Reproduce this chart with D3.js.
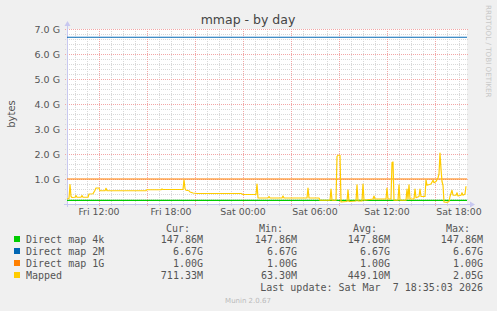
<!DOCTYPE html>
<html>
<head>
<meta charset="utf-8">
<script src="https://cdn.jsdelivr.net/npm/d3@7"></script>
<style>
  body { margin: 0; background: #f0f0f0; }
  svg { display: block; }
  text { font-family: "DejaVu Sans", sans-serif; }
  .mono { font-family: "DejaVu Sans Mono", monospace; white-space: pre; }
</style>
</head>
<body>
<svg id="chart"></svg>
<script>
const width = 497, height = 311;
const margin = { top: 29, right: 30, bottom: 107, left: 67 };

// x domain of the day graph
const startTime = "2026-03-06T09:20";
const endTime = "2026-03-07T18:40";

// series (values in G)
const seriesNames = ["Direct map 4k", "Direct map 2M", "Direct map 1G", "Mapped"];
const seriesColors = ["#00cc00", "#0066b3", "#ff8000", "#ffcc00"];
const directMap4k = 0.1444;
const directMap2M = 6.67;
const directMap1G = 1.00;

const mappedTimes = [
  "2026-03-06T09:20", "2026-03-06T09:30", "2026-03-06T09:35", "2026-03-06T09:40", "2026-03-06T09:45",
  "2026-03-06T10:00", "2026-03-06T10:05", "2026-03-06T10:10", "2026-03-06T10:30", "2026-03-06T10:35",
  "2026-03-06T10:40", "2026-03-06T11:05", "2026-03-06T11:10", "2026-03-06T11:30", "2026-03-06T11:40",
  "2026-03-06T11:45", "2026-03-06T12:00", "2026-03-06T12:05", "2026-03-06T12:30", "2026-03-06T12:35",
  "2026-03-06T12:40", "2026-03-06T15:55", "2026-03-06T16:00", "2026-03-06T16:05", "2026-03-06T17:10",
  "2026-03-06T17:15", "2026-03-06T17:20", "2026-03-06T19:00", "2026-03-06T19:05", "2026-03-06T19:10",
  "2026-03-06T19:15", "2026-03-06T19:30", "2026-03-06T19:35", "2026-03-06T19:50", "2026-03-06T20:10",
  "2026-03-06T23:50", "2026-03-07T00:00", "2026-03-07T01:05", "2026-03-07T01:10", "2026-03-07T01:15",
  "2026-03-07T02:05", "2026-03-07T02:10", "2026-03-07T02:15", "2026-03-07T03:15", "2026-03-07T03:20",
  "2026-03-07T03:25", "2026-03-07T05:20", "2026-03-07T05:25", "2026-03-07T05:30", "2026-03-07T06:20",
  "2026-03-07T06:25", "2026-03-07T07:15", "2026-03-07T07:20", "2026-03-07T07:25", "2026-03-07T07:45",
  "2026-03-07T07:50", "2026-03-07T07:55", "2026-03-07T08:05", "2026-03-07T08:10", "2026-03-07T08:40",
  "2026-03-07T08:45", "2026-03-07T08:50", "2026-03-07T09:25", "2026-03-07T09:30", "2026-03-07T09:35",
  "2026-03-07T09:55", "2026-03-07T10:00", "2026-03-07T10:05", "2026-03-07T10:50", "2026-03-07T10:55",
  "2026-03-07T11:00", "2026-03-07T11:55", "2026-03-07T12:00", "2026-03-07T12:05", "2026-03-07T12:20",
  "2026-03-07T12:25", "2026-03-07T12:30", "2026-03-07T12:35", "2026-03-07T12:55", "2026-03-07T13:00",
  "2026-03-07T13:05", "2026-03-07T13:35", "2026-03-07T13:40", "2026-03-07T13:45", "2026-03-07T13:50",
  "2026-03-07T13:55", "2026-03-07T14:15", "2026-03-07T14:20", "2026-03-07T14:25", "2026-03-07T14:40",
  "2026-03-07T14:45", "2026-03-07T14:50", "2026-03-07T15:10", "2026-03-07T15:15", "2026-03-07T15:20",
  "2026-03-07T15:40", "2026-03-07T15:50", "2026-03-07T15:55", "2026-03-07T16:05", "2026-03-07T16:15",
  "2026-03-07T16:20", "2026-03-07T16:25", "2026-03-07T16:30", "2026-03-07T16:35", "2026-03-07T16:40",
  "2026-03-07T16:45", "2026-03-07T17:00", "2026-03-07T17:10", "2026-03-07T17:15", "2026-03-07T17:25",
  "2026-03-07T17:30", "2026-03-07T17:45", "2026-03-07T17:50", "2026-03-07T17:55", "2026-03-07T18:10",
  "2026-03-07T18:15", "2026-03-07T18:20", "2026-03-07T18:30", "2026-03-07T18:35"
];
const mappedValues = [
  0.20, 0.22, 0.78, 0.30, 0.26,
  0.27, 0.34, 0.27, 0.27, 0.34,
  0.27, 0.27, 0.40, 0.41, 0.55,
  0.64, 0.64, 0.53, 0.53, 0.63,
  0.53, 0.53, 0.58, 0.57, 0.57,
  0.60, 0.58, 0.58, 0.97, 0.62,
  0.55, 0.53, 0.48, 0.44, 0.42,
  0.42, 0.38, 0.38, 0.80, 0.24,
  0.24, 0.30, 0.24, 0.24, 0.32,
  0.24, 0.24, 0.64, 0.24, 0.24,
  0.15, 0.15, 0.60, 0.15, 0.15,
  1.90, 1.95, 1.95, 0.08, 0.10,
  0.57, 0.10, 0.12, 0.77, 0.12,
  0.12, 0.80, 0.15, 0.20, 0.32,
  0.20, 0.20, 0.64, 0.20, 0.20,
  1.66, 1.68, 0.15, 0.15, 0.77,
  0.15, 0.15, 0.60, 0.20, 0.77,
  0.20, 0.20, 0.60, 0.25, 0.30,
  0.60, 0.30, 0.30, 0.97, 0.75,
  0.80, 0.95, 0.85, 0.90, 1.05,
  1.20, 2.04, 1.40, 0.90, 0.75,
  0.08, 0.062, 0.10, 0.30, 0.55,
  0.35, 0.35, 0.45, 0.32, 0.35,
  0.45, 0.35, 0.40, 0.71
];

// legend table
const legendCur = ["147.86M", "6.67G", "1.00G", "711.33M"];
const legendMin = ["147.86M", "6.67G", "1.00G", "63.30M"];
const legendAvg = ["147.86M", "6.67G", "1.00G", "449.10M"];
const legendMax = ["147.86M", "6.67G", "1.00G", "2.05G"];
const yTicks = [1, 2, 3, 4, 5, 6, 7];

const parse = d3.timeParse("%Y-%m-%dT%H:%M");
const svg = d3.select("#chart").attr("width", width).attr("height", height);

svg.append("rect").attr("width", width).attr("height", height).attr("fill", "#f0f0f0");

const x = d3.scaleTime()
  .domain([parse(startTime), parse(endTime)])
  .range([margin.left, width - margin.right]);
const y = d3.scaleLinear()
  .domain([0, 7])
  .range([height - margin.bottom, margin.top]);

const pl = margin.left, pr = width - margin.right, pt = margin.top, pb = height - margin.bottom;

svg.append("rect")
  .attr("x", pl).attr("y", pt)
  .attr("width", pr - pl).attr("height", pb - pt)
  .attr("fill", "#ffffff");

// grid
const grid = svg.append("g").attr("shape-rendering", "crispEdges");
const minorY = d3.range(1, 35).map(i => i / 5).filter(v => Math.abs(v - Math.round(v)) > 1e-6);
grid.selectAll(".hmin").data(minorY).join("line")
  .attr("x1", pl - 2).attr("x2", pr + 2)
  .attr("y1", d => Math.round(y(d)) + 0.5).attr("y2", d => Math.round(y(d)) + 0.5)
  .attr("stroke", "#d8d8d8").attr("stroke-dasharray", "1,1");

const hourTicks = x.ticks(d3.timeHour.every(1)).filter(d => d.getHours() % 4 !== 0);
grid.selectAll(".vmin").data(hourTicks).join("line")
  .attr("x1", d => Math.round(x(d)) + 0.5).attr("x2", d => Math.round(x(d)) + 0.5)
  .attr("y1", pt).attr("y2", pb + 2)
  .attr("stroke", "#d8d8d8").attr("stroke-dasharray", "1,1");

grid.selectAll(".hmaj").data(yTicks).join("line")
  .attr("x1", pl - 2).attr("x2", pr + 2)
  .attr("y1", d => Math.round(y(d)) + 0.5).attr("y2", d => Math.round(y(d)) + 0.5)
  .attr("stroke", "#f2a6a6").attr("stroke-dasharray", "1,1");

grid.selectAll(".vmaj").data(x.ticks(d3.timeHour.every(4))).join("line")
  .attr("x1", d => Math.round(x(d)) + 0.5).attr("x2", d => Math.round(x(d)) + 0.5)
  .attr("y1", pt).attr("y2", pb + 2)
  .attr("stroke", "#f2a6a6").attr("stroke-dasharray", "1,1");

// axes lines + arrows
const axisColor = "#c8c8f0";
svg.append("line").attr("x1", pl + 0.5).attr("x2", pl + 0.5).attr("y1", pb + 3).attr("y2", pt - 5)
  .attr("stroke", axisColor);
svg.append("line").attr("x1", pl - 3).attr("x2", pr + 4).attr("y1", pb + 0.5).attr("y2", pb + 0.5)
  .attr("stroke", axisColor);
svg.append("path").attr("d", `M${pl - 2.5},${pt - 3}L${pl + 3.5},${pt - 3}L${pl + 0.5},${pt - 8}Z`).attr("fill", axisColor);
svg.append("path").attr("d", `M${pr + 3},${pb - 2.5}L${pr + 3},${pb + 3.5}L${pr + 8},${pb + 0.5}Z`).attr("fill", axisColor);

// tick labels
svg.append("g").selectAll("text").data(yTicks).join("text")
  .attr("x", pl - 7).attr("y", d => y(d) + 3.5)
  .attr("text-anchor", "end").attr("font-size", 9.5).attr("fill", "#555")
  .text(d => d3.format(".1f")(d) + " G");

const fmtX = d3.timeFormat("%a %H:%M");
svg.append("g").selectAll("text").data(x.ticks(d3.timeHour.every(6))).join("text")
  .attr("x", d => x(d)).attr("y", pb + 11)
  .attr("text-anchor", "middle").attr("font-size", 9.4).attr("fill", "#555")
  .text(d => fmtX(d));

// series
const flat = v => [[x.domain()[0], v], [x.domain()[1], v]];
const line = d3.line().x(d => x(d[0])).y(d => y(d[1]));
const mapped = mappedTimes.map((t, i) => [parse(t), mappedValues[i]]);
const seriesData = [flat(directMap4k), flat(directMap2M), flat(directMap1G), mapped];

svg.append("g").selectAll("path").data(seriesData).join("path")
  .attr("d", d => line(d))
  .attr("fill", "none")
  .attr("stroke", (d, i) => seriesColors[i])
  .attr("stroke-width", 1.2)
  .attr("stroke-linejoin", "round");

// title, axis label, watermark
svg.append("text").attr("x", 248).attr("y", 23.5).attr("text-anchor", "middle")
  .attr("font-size", 12.5).attr("fill", "#444").text("mmap - by day");
svg.append("text").attr("transform", "translate(15,114) rotate(-90)").attr("text-anchor", "middle")
  .attr("font-size", 10).attr("fill", "#555").text("bytes");
svg.append("text").attr("transform", "translate(486,5) rotate(90)")
  .attr("font-size", 7.2).attr("fill", "#c8c8c8").text("RRDTOOL / TOBI OETIKER");

// legend
const lg = svg.append("g").attr("class", "mono").attr("font-size", 10).attr("fill", "#555");
const colHead = [["Cur:", 190], ["Min:", 283], ["Avg:", 377], ["Max:", 470]];
lg.selectAll(".hd").data(colHead).join("text").attr("class", "mono")
  .attr("x", d => d[1]).attr("y", 231.5).attr("text-anchor", "end").text(d => d[0]);

const rowY = i => 242.5 + i * 12;
lg.selectAll("rect").data(seriesNames).join("rect")
  .attr("x", 14).attr("y", (d, i) => rowY(i) - 6.5).attr("width", 6).attr("height", 6)
  .attr("fill", (d, i) => seriesColors[i]);
lg.selectAll(".nm").data(seriesNames).join("text").attr("class", "mono")
  .attr("x", 26).attr("y", (d, i) => rowY(i)).text(d => d);

const cols = [[legendCur, 203], [legendMin, 297], [legendAvg, 390], [legendMax, 483]];
cols.forEach(([vals, right]) => {
  lg.append("g").selectAll("text").data(vals).join("text").attr("class", "mono")
    .attr("x", right).attr("y", (d, i) => rowY(i)).attr("text-anchor", "end").text(d => d);
});
lg.append("text").attr("class", "mono").attr("x", 483).attr("y", 291)
  .attr("text-anchor", "end").text("Last update: Sat Mar  7 18:35:03 2026");

svg.append("text").attr("x", 248).attr("y", 303).attr("text-anchor", "middle")
  .attr("font-size", 7).attr("fill", "#bbb").text("Munin 2.0.67");
</script>
</body>
</html>
